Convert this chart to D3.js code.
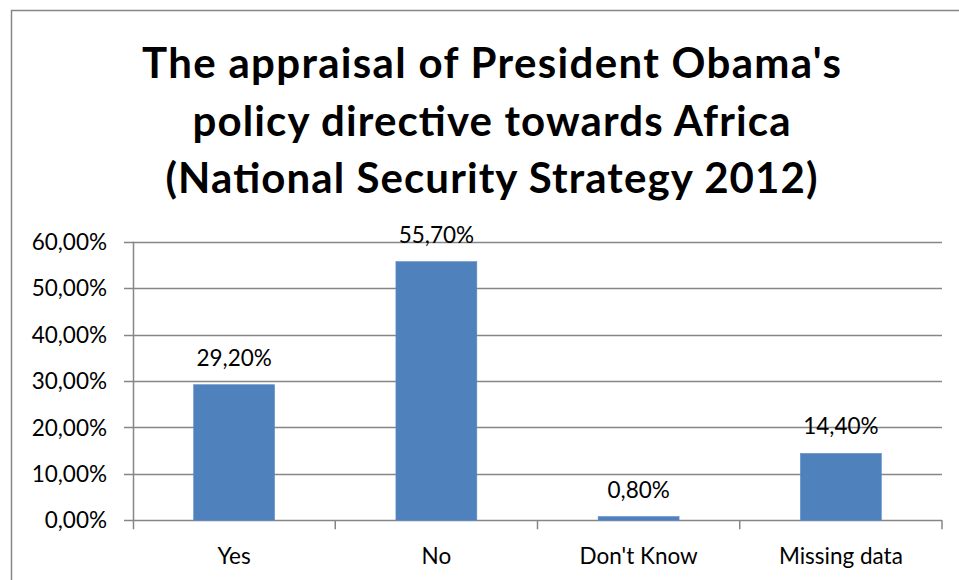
<!DOCTYPE html>
<html><head><meta charset="utf-8">
<script src="https://cdn.jsdelivr.net/npm/d3@7"></script>
<style>body{margin:0;background:#fff}svg{display:block}text{font-family:Lato,"Open Sans",sans-serif}</style>
</head><body>
<svg id="c" width="959" height="580"></svg>
<script>
const categories = ["Yes", "No", "Don't Know", "Missing data"];
const values = [29.2, 55.7, 0.8, 14.4];
const valueLabels = ["29,20%", "55,70%", "0,80%", "14,40%"];
const yTicks = [0, 10, 20, 30, 40, 50, 60];
const yTickLabels = ["0,00%", "10,00%", "20,00%", "30,00%", "40,00%", "50,00%", "60,00%"];
const titleLines = ["The appraisal of President Obama's", "policy directive towards Africa", "(National Security Strategy 2012)"];

(function () {
const svg = d3.select("#c");
const grid = "#868686";
svg.append("path").attr("d", "M11.5,590V10.5H970").attr("fill","none").attr("stroke", grid).attr("stroke-width",1.5);

const pLeft = 133, pRight = 942, pTop = 241.7, pBottom = 520.3;
const x = d3.scaleBand().domain(categories).range([pLeft, pRight]).paddingInner(0.6).paddingOuter(0.3);
const y = d3.scaleLinear().domain([0, 60]).range([pBottom, pTop]);

const tg = svg.append("g");
const titleY = [77.5, 135.5, 193];
const titleW = [699, 598, 652];
titleLines.forEach((t, i) => {
  tg.append("text").attr("x", 491.5).attr("y", titleY[i]).attr("text-anchor","middle")
    .attr("font-weight","bold").attr("font-size", 42).attr("fill","#000")
    .attr("textLength", titleW[i]).attr("lengthAdjust", "spacing").text(t);
});

svg.append("g").selectAll("line").data(yTicks).join("line")
  .attr("x1", pLeft - 9).attr("x2", pRight).attr("y1", d => Math.round(y(d)) + 0.5).attr("y2", d => Math.round(y(d)) + 0.5)
  .attr("stroke", grid).attr("stroke-width", 1.5);

svg.append("line").attr("x1", pLeft + 0.5).attr("x2", pLeft + 0.5).attr("y1", y(60)).attr("y2", pBottom + 9).attr("stroke", grid).attr("stroke-width",1.5);

const tickXs = d3.range(categories.length + 1).map(i => pLeft + i * (pRight - pLeft) / categories.length);
svg.append("g").selectAll("line").data(tickXs.slice(1)).join("line")
  .attr("x1", d => d).attr("x2", d => d).attr("y1", pBottom).attr("y2", pBottom + 9)
  .attr("stroke", grid).attr("stroke-width", 1.5);

svg.append("g").selectAll("text").data(yTicks).join("text")
  .attr("x", 107).attr("y", d => y(d)).attr("dy", "0.36em").attr("text-anchor","end")
  .attr("font-size", 22.5).attr("fill","#000").text((d, i) => yTickLabels[i]);

svg.append("g").selectAll("rect").data(values).join("rect")
  .attr("x", (d, i) => x(categories[i])).attr("width", x.bandwidth())
  .attr("y", d => y(d)).attr("height", d => pBottom - y(d))
  .attr("fill", "#4F81BD").attr("stroke","#5B8ACB").attr("stroke-width",0.6);

svg.append("g").selectAll("text").data(values).join("text")
  .attr("x", (d, i) => x(categories[i]) + x.bandwidth() / 2).attr("y", d => y(d) - 19)
  .attr("text-anchor","middle").attr("font-size", 22.5).attr("fill","#000").text((d, i) => valueLabels[i]);

svg.append("g").selectAll("text").data(categories).join("text")
  .attr("x", d => x(d) + x.bandwidth() / 2).attr("y", 564)
  .attr("text-anchor","middle").attr("font-size", 22.5).attr("fill","#000").text(d => d);
})();
</script>
</body></html>
